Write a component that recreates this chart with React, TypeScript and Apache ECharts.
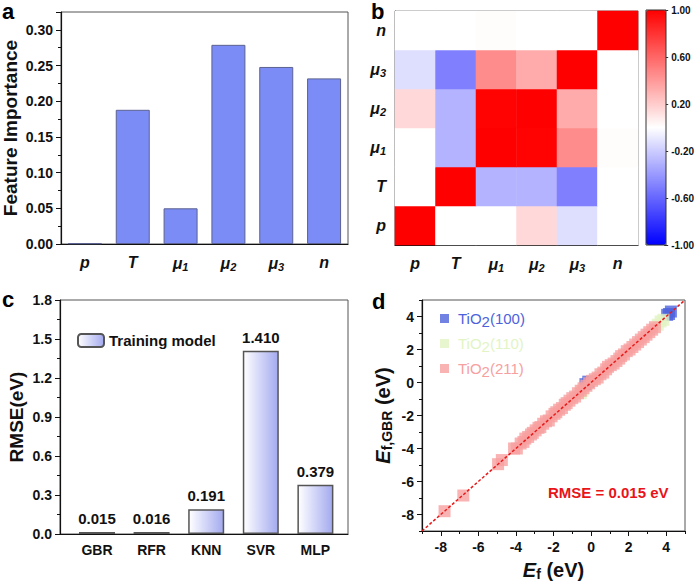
import React, { useEffect, useRef } from 'react';
import * as echarts from 'echarts';

// ---------- data ----------
const featureCats = ['p', 'T', 'μ1', 'μ2', 'μ3', 'n'];
const featureImportance = [0.001, 0.188, 0.05, 0.279, 0.248, 0.232];

const corrCats = ['p', 'T', 'μ1', 'μ2', 'μ3', 'n'];
// rows in corrCats order (p ... n), columns in corrCats order
const corrP = [1, 0.0, 0.0, 0.15, -0.13, 0.0];
const corrT = [0.0, 1, -0.3, -0.3, -0.5, 0.0];
const corrMu1 = [0.0, -0.3, 1, 0.99, 0.45, 0.01];
const corrMu2 = [0.15, -0.3, 0.99, 1, 0.33, 0.0];
const corrMu3 = [-0.13, -0.5, 0.45, 0.33, 1, 0.0];
const corrN = [0.0, 0.0, 0.01, 0.0, 0.0, 1];
const corrRows = [corrP, corrT, corrMu1, corrMu2, corrMu3, corrN];

const models = ['GBR', 'RFR', 'KNN', 'SVR', 'MLP'];
const rmse = [0.015, 0.016, 0.191, 1.41, 0.379];

const tio2_100 = [[4.25, 4.3], [4.15, 4.15], [4.05, 4.1], [-0.15, 0.05], [-0.3, -0.1]];
const tio2_110 = [[3.85, 3.8], [3.7, 3.7], [3.55, 3.5], [-0.55, -0.65], [-0.45, -0.5]];
const tio2_211 = [
  [-7.8, -7.8], [-6.8, -6.85], [-4.95, -4.95], [-4.75, -4.7], [-4.1, -4.0], [-3.95, -4.0],
  [-3.75, -3.7], [-3.6, -3.6], [-3.5, -3.4], [-3.35, -3.3], [-3.2, -3.15], [-3.1, -3.05],
  [-2.95, -2.9], [-2.8, -2.75], [-2.7, -2.7], [-2.55, -2.5], [-2.4, -2.35], [-2.25, -2.3],
  [-2.1, -2.05], [-1.95, -1.9], [-1.85, -1.8], [-1.7, -1.65], [-1.55, -1.55], [-1.4, -1.35],
  [-1.3, -1.25], [-1.15, -1.1], [-1.0, -0.95], [-0.85, -0.85], [-0.7, -0.65], [-0.55, -0.5],
  [-0.4, -0.35], [-0.25, -0.2], [-0.1, -0.05], [0.05, 0.1], [0.2, 0.2], [0.35, 0.3],
  [0.5, 0.5], [0.65, 0.6], [0.8, 0.8], [0.9, 0.95], [1.05, 1.05], [1.2, 1.15],
  [1.35, 1.3], [1.5, 1.45], [1.6, 1.6], [1.75, 1.7], [1.9, 1.9], [2.05, 2.0],
  [2.2, 2.15], [2.35, 2.3], [2.5, 2.45], [2.65, 2.6], [2.8, 2.75], [2.95, 2.9],
  [3.1, 3.05], [3.25, 3.2], [3.4, 3.35],
];
const diagonal = [[-9, -9], [5, 5]];

// ---------- styling ----------
const FONT = 'Liberation Sans, Arial, Helvetica, sans-serif';
const BLACK = '#111';
const tickLabel = { fontFamily: FONT, fontWeight: 'bold' as const, fontSize: 14, color: BLACK };
const axisLineBlack = { show: true, onZero: false, lineStyle: { color: BLACK, width: 1.2 } };
const tickStyle = { lineStyle: { color: BLACK, width: 1 } };

const greekRich = {
  i: { fontFamily: FONT, fontStyle: 'italic', fontWeight: 'bold', fontSize: 16, color: BLACK },
  s: { fontFamily: FONT, fontStyle: 'italic', fontWeight: 'bold', fontSize: 11, color: BLACK, padding: [7, 0, 0, 0] },
};
const greekFmt = (v: string) => {
  const m = v.match(/^μ(\d)$/);
  return m ? `{i|μ}{s|${m[1]}}` : `{i|${v}}`;
};

const titleStyle = { fontFamily: FONT, fontWeight: 'bold' as const, fontSize: 19, color: BLACK };
const eRich = {
  e: { fontFamily: FONT, fontStyle: 'italic', fontWeight: 'bold', fontSize: 20, color: BLACK },
  s: { fontFamily: FONT, fontWeight: 'bold', fontSize: 14, color: BLACK, padding: [9, 0, 0, 0] },
  t: { fontFamily: FONT, fontWeight: 'bold', fontSize: 20, color: BLACK },
};

const C100 = '#4d63dc';
const C110 = '#e2f4c4';
const C211 = '#f7a0a0';

const legendItem = (name: string, color: string) => ({
  name,
  textStyle: {
    color,
    fontFamily: FONT,
    fontSize: 15,
    rich: { s: { color, fontFamily: FONT, fontSize: 15, padding: [6, 0, 0, 0] } },
  },
});

const panelLetter = (t: string, x: number, y: number) => ({
  type: 'text', x, y,
  style: { text: t, fontFamily: FONT, fontWeight: 'bold', fontSize: 22, fill: '#000', verticalAlign: 'middle' },
});

export default function App() {
  const ref = useRef<HTMLDivElement>(null);
  useEffect(() => {
    if (!ref.current) return;
    const chart = echarts.init(ref.current, null, { renderer: 'svg' });

    const heatData: number[][] = [];
    corrRows.forEach((row, r) => row.forEach((v, c) => heatData.push([c, r, v])));

    const option: any = {
      animation: false,
      backgroundColor: '#fff',
      grid: [
        { left: 60, top: 12, width: 288, height: 232, show: true, borderColor: '#555', borderWidth: 1 },
        { left: 395, top: 11, width: 243, height: 234, show: true, borderColor: '#777', borderWidth: 1 },
        { left: 646, top: 10, width: 20, height: 235 },
        { left: 60, top: 300, width: 288, height: 234, show: true, borderColor: '#555', borderWidth: 1 },
        { left: 69.7, top: 300, width: 273, height: 234 },
        { left: 422, top: 300, width: 263, height: 232, show: true, borderColor: '#555', borderWidth: 1 },
      ],
      xAxis: [
        {
          gridIndex: 0, type: 'category', data: featureCats, position: 'bottom',
          axisLine: axisLineBlack, axisTick: { alignWithLabel: true, length: 5, ...tickStyle },
          axisLabel: { interval: 0, margin: 10, formatter: greekFmt, rich: greekRich }, splitLine: { show: false },
        },
        {
          gridIndex: 0, type: 'category', data: featureCats, position: 'bottom',
          axisLine: { show: false, onZero: false }, axisTick: { interval: 0, length: 3, ...tickStyle },
          axisLabel: { show: false }, splitLine: { show: false },
        },
        {
          gridIndex: 1, type: 'category', data: corrCats, position: 'bottom',
          axisLine: axisLineBlack, axisTick: { interval: 0, alignWithLabel: true, length: 5, ...tickStyle },
          axisLabel: { interval: 0, margin: 10, formatter: greekFmt, rich: greekRich }, splitLine: { show: false },
        },
        { gridIndex: 2, type: 'value', show: false },
        {
          gridIndex: 3, type: 'value', min: 0, max: 1, position: 'bottom',
          axisLine: axisLineBlack, axisTick: { show: false }, axisLabel: { show: false }, splitLine: { show: false },
        },
        {
          gridIndex: 4, type: 'category', data: models, position: 'bottom',
          axisLine: { show: false, onZero: false }, axisTick: { interval: 0, alignWithLabel: true, length: 5, ...tickStyle },
          axisLabel: { ...tickLabel, interval: 0, margin: 9 }, splitLine: { show: false },
        },
        {
          gridIndex: 5, type: 'value', min: -9, max: 5, splitNumber: 7, position: 'bottom',
          axisLine: axisLineBlack, axisTick: { length: 5, ...tickStyle },
          axisLabel: { ...tickLabel, margin: 9, showMinLabel: false, showMaxLabel: false },
          splitLine: { show: false },
          name: '{e|E}{s|f}{t| (eV)}', nameLocation: 'middle', nameGap: 27,
          nameTextStyle: { rich: eRich },
        },
        {
          gridIndex: 5, type: 'value', min: -9, max: 5, interval: 2, position: 'bottom',
          axisLine: { show: false, onZero: false }, axisTick: { length: 3, ...tickStyle },
          axisLabel: { show: false }, splitLine: { show: false },
        },
      ],
      yAxis: [
        {
          gridIndex: 0, type: 'value', min: 0, max: 0.325, interval: 0.05, position: 'left',
          axisLine: axisLineBlack, axisTick: { show: true, length: 5, ...tickStyle },
          minorTick: { show: true, splitNumber: 2, length: 3, lineStyle: { color: BLACK } },
          axisLabel: { ...tickLabel, margin: 8, showMaxLabel: false, formatter: (v: number) => v.toFixed(2) },
          splitLine: { show: false },
          name: 'Feature Importance', nameLocation: 'middle', nameGap: 41, nameTextStyle: titleStyle,
        },
        {
          gridIndex: 1, type: 'category', data: corrCats, position: 'left',
          axisLine: axisLineBlack, axisTick: { interval: 0, alignWithLabel: true, length: 5, ...tickStyle },
          axisLabel: { interval: 0, margin: 9, formatter: greekFmt, rich: greekRich }, splitLine: { show: false },
        },
        {
          gridIndex: 2, type: 'value', min: -1, max: 1, interval: 0.4, position: 'right',
          axisLine: { show: false, onZero: false }, axisTick: { show: true, length: 4, lineStyle: { color: '#333' } },
          axisLabel: { fontFamily: FONT, fontWeight: 'bold', fontSize: 10, color: BLACK, margin: 7, formatter: (v: number) => v.toFixed(2) },
          splitLine: { show: false },
        },
        {
          gridIndex: 3, type: 'value', min: 0, max: 1.8, interval: 0.3, position: 'left',
          axisLine: axisLineBlack, axisTick: { show: true, length: 5, ...tickStyle },
          minorTick: { show: true, splitNumber: 2, length: 3, lineStyle: { color: BLACK } },
          axisLabel: { ...tickLabel, margin: 8, formatter: (v: number) => v.toFixed(1) },
          splitLine: { show: false },
          name: 'RMSE(eV)', nameLocation: 'middle', nameGap: 34, nameTextStyle: titleStyle,
        },
        { gridIndex: 4, type: 'value', min: 0, max: 1.8, show: false },
        {
          gridIndex: 5, type: 'value', min: -9, max: 5, splitNumber: 7, position: 'left',
          axisLine: axisLineBlack, axisTick: { show: true, length: 5, ...tickStyle },
          axisLabel: { ...tickLabel, margin: 8, showMinLabel: false, showMaxLabel: false },
          splitLine: { show: false },
          name: '{e|E}{s|f,GBR}{t| (eV)}', nameLocation: 'middle', nameGap: 28,
          nameTextStyle: { rich: eRich },
        },
        {
          gridIndex: 5, type: 'value', min: -9, max: 5, interval: 2, position: 'left',
          axisLine: { show: false, onZero: false }, axisTick: { show: true, length: 3, ...tickStyle },
          axisLabel: { show: false }, splitLine: { show: false },
        },
      ],
      visualMap: {
        type: 'continuous', min: -1, max: 1, seriesIndex: 1, left: 646, top: 10,
        itemWidth: 20, itemHeight: 235, padding: 0, calculable: false, hoverLink: false,
        inRange: { color: ['#0000ff', '#ffffff', '#ff0000'] },
      },
      legend: [
        {
          data: ['Training model'], left: 77, top: 333, itemWidth: 26, itemHeight: 13, padding: 0,
          selectedMode: false,
          textStyle: { fontFamily: FONT, fontWeight: 'bold', fontSize: 15, color: BLACK },
        },
        {
          data: [legendItem('TiO2(100)', C100), legendItem('TiO2(110)', C110), legendItem('TiO2(211)', C211)],
          orient: 'vertical', left: 440, top: 309, itemWidth: 9, itemHeight: 9, itemGap: 5, padding: 0,
          selectedMode: false,
          formatter: (n: string) => n.replace('2(', '{s|2}('),
          textStyle: { fontFamily: FONT, fontSize: 15, lineHeight: 19, padding: [0, 0, 0, 4] },
        },
      ],
      series: [
        {
          type: 'bar', xAxisIndex: 0, yAxisIndex: 0, data: featureImportance, barWidth: 34,
          itemStyle: { color: '#7b8cf6', borderColor: '#5c6290', borderWidth: 1 },
        },
        {
          type: 'heatmap', xAxisIndex: 2, yAxisIndex: 1, data: heatData,
          itemStyle: { borderWidth: 0 }, emphasis: { disabled: true },
        },
        {
          type: 'bar', name: 'Training model', xAxisIndex: 5, yAxisIndex: 4, data: rmse, barWidth: 36,
          itemStyle: {
            color: new echarts.graphic.LinearGradient(0, 0, 1, 0, [
              { offset: 0, color: '#ffffff' },
              { offset: 1, color: '#a3aaef' },
            ]),
            borderColor: '#555', borderWidth: 1.5,
          },
          label: {
            show: true, position: 'top', distance: 6,
            formatter: (p: any) => Number(p.value).toFixed(3),
            fontFamily: FONT, fontWeight: 'bold', fontSize: 15, color: BLACK,
          },
        },
        {
          type: 'scatter', name: 'TiO2(100)', xAxisIndex: 6, yAxisIndex: 5, data: tio2_100,
          symbol: 'rect', symbolSize: 12, itemStyle: { color: C100 },
        },
        {
          type: 'scatter', name: 'TiO2(110)', xAxisIndex: 6, yAxisIndex: 5, data: tio2_110,
          symbol: 'rect', symbolSize: 12, itemStyle: { color: C110 },
        },
        {
          type: 'scatter', name: 'TiO2(211)', xAxisIndex: 6, yAxisIndex: 5, data: tio2_211,
          symbol: 'rect', symbolSize: 12, itemStyle: { color: C211 },
        },
        {
          type: 'line', xAxisIndex: 6, yAxisIndex: 5, data: diagonal, symbol: 'none', silent: true,
          lineStyle: { color: '#e81a1a', width: 1.5, type: [3, 2] }, z: 5,
        },
      ],
      graphic: [
        panelLetter('a', 2, 11),
        panelLetter('b', 371, 11),
        panelLetter('c', 2, 299),
        panelLetter('d', 372, 301),
        { type: 'text', x: 548, y: 492, style: { text: 'RMSE = 0.015 eV', fontFamily: FONT, fontWeight: 'bold', fontSize: 15, fill: '#e8141a', verticalAlign: 'middle' } },
        { type: 'rect', z: 100, shape: { x: 646, y: 10, width: 20, height: 235 }, style: { fill: 'none', stroke: '#333', lineWidth: 1 } },
      ],
    };
    chart.setOption(option);
    return () => chart.dispose();
  }, []);
  return <div ref={ref} style={{ position: 'fixed', left: 0, top: 0, width: 697, height: 582 }} />;
}
